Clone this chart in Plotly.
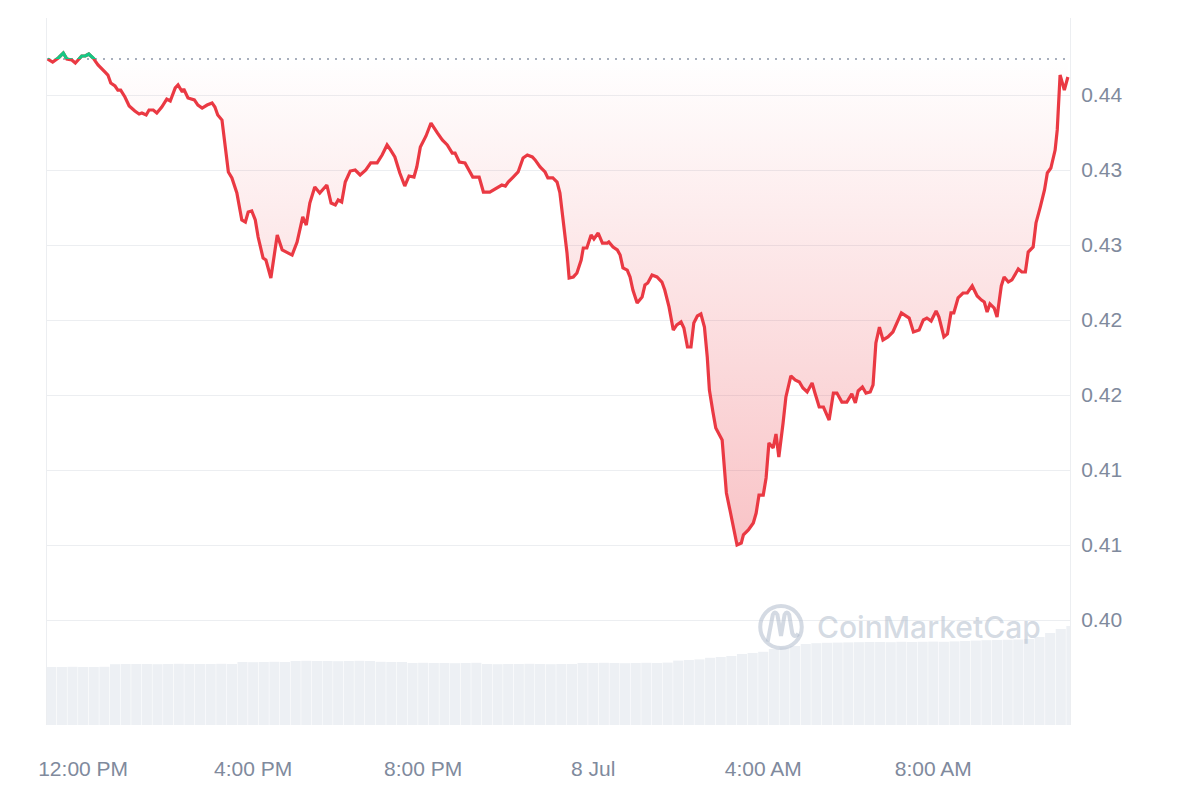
import pandas as pd
import plotly.graph_objects as go

# ---------------- data ----------------
start_time = "2024-07-07 11:09"
minutes_from_start = [
    1, 8, 16, 23, 28, 35, 40, 45, 49, 54, 59, 65, 72, 82, 86, 90, 96, 100, 104, 110,
    116, 124, 130, 134, 140, 144, 150, 155, 162, 169, 174, 181, 185, 191, 193, 199, 208, 213, 219, 226,
    233, 237, 241, 247, 251, 256, 261, 268, 275, 280, 284, 289, 294, 298, 305, 309, 316, 320, 325, 332,
    339, 346, 353, 361, 366, 371, 378, 385, 395, 401, 407, 411, 416, 421, 428, 435, 442, 450, 457, 466,
    473, 480, 484, 491, 498, 505, 511, 518, 522, 527, 535, 542, 551, 558, 565, 572, 576, 582, 590, 594,
    601, 610, 616, 625, 632, 642, 647, 651, 658, 665, 672, 678, 685, 689, 696, 703, 707, 714, 720, 724,
    728, 734, 737, 743, 748, 754, 757, 762, 768, 772, 778, 784, 791, 793, 799, 805, 809, 813, 819, 823,
    827, 833, 840, 844, 848, 854, 861, 868, 872, 878, 884, 889, 895, 899, 904, 909, 913, 918, 923, 928,
    932, 935, 940, 944, 953, 956, 959, 964, 970, 974, 980, 983, 990, 997, 1001, 1005, 1011, 1015, 1019, 1025,
    1029, 1033, 1039, 1043, 1050, 1056, 1062, 1067, 1073, 1080, 1084, 1090, 1096, 1104, 1110, 1115, 1122, 1129, 1136, 1141,
    1145, 1151, 1156, 1162, 1166, 1170, 1175, 1180, 1187, 1194, 1206, 1211, 1217, 1223, 1231, 1237, 1242, 1248, 1255, 1259,
    1266, 1271, 1276, 1280, 1286, 1293, 1299, 1306, 1313, 1319, 1323, 1327, 1331, 1337, 1341, 1347, 1351, 1357, 1362, 1371,
    1376, 1381, 1385, 1392, 1396, 1402, 1408, 1412, 1417, 1423, 1426, 1430, 1436, 1441,
]
prices = [
    0.44240, 0.44220, 0.44247, 0.44280, 0.44240, 0.44233, 0.44213, 0.44240, 0.44260, 0.44260,
    0.44273, 0.44247, 0.44200, 0.44153, 0.44133, 0.44080, 0.44060, 0.44033, 0.44033, 0.43987,
    0.43927, 0.43893, 0.43873, 0.43880, 0.43867, 0.43900, 0.43900, 0.43880, 0.43920, 0.43973,
    0.43960, 0.44047, 0.44067, 0.44020, 0.44040, 0.43980, 0.43967, 0.43933, 0.43913, 0.43933,
    0.43947, 0.43920, 0.43867, 0.43833, 0.43680, 0.43487, 0.43447, 0.43347, 0.43167, 0.43153,
    0.43220, 0.43227, 0.43167, 0.43053, 0.42913, 0.42900, 0.42780, 0.42920, 0.43067, 0.42967,
    0.42947, 0.42933, 0.43020, 0.43187, 0.43133, 0.43280, 0.43387, 0.43347, 0.43400, 0.43280,
    0.43267, 0.43300, 0.43287, 0.43420, 0.43493, 0.43500, 0.43467, 0.43500, 0.43547, 0.43547,
    0.43600, 0.43667, 0.43640, 0.43587, 0.43480, 0.43393, 0.43460, 0.43453, 0.43520, 0.43653,
    0.43727, 0.43813, 0.43747, 0.43700, 0.43667, 0.43613, 0.43613, 0.43553, 0.43547, 0.43513,
    0.43453, 0.43453, 0.43353, 0.43353, 0.43373, 0.43400, 0.43393, 0.43420, 0.43453, 0.43487,
    0.43580, 0.43600, 0.43587, 0.43567, 0.43520, 0.43487, 0.43447, 0.43447, 0.43420, 0.43347,
    0.43187, 0.42947, 0.42780, 0.42787, 0.42813, 0.42900, 0.42980, 0.42980, 0.43067, 0.43040,
    0.43080, 0.43013, 0.43013, 0.43020, 0.42987, 0.42967, 0.42933, 0.42847, 0.42833, 0.42787,
    0.42700, 0.42613, 0.42653, 0.42733, 0.42747, 0.42800, 0.42787, 0.42753, 0.42700, 0.42587,
    0.42433, 0.42467, 0.42487, 0.42447, 0.42320, 0.42320, 0.42480, 0.42527, 0.42540, 0.42453,
    0.42253, 0.42033, 0.41887, 0.41780, 0.41700, 0.41500, 0.41347, 0.41233, 0.41100, 0.41000,
    0.41013, 0.41067, 0.41100, 0.41147, 0.41213, 0.41333, 0.41333, 0.41447, 0.41680, 0.41647,
    0.41740, 0.41587, 0.41813, 0.41987, 0.42127, 0.42100, 0.42087, 0.42047, 0.42020, 0.42080,
    0.42013, 0.41920, 0.41920, 0.41833, 0.42013, 0.42013, 0.41953, 0.41953, 0.42007, 0.41947,
    0.42027, 0.42053, 0.42013, 0.42020, 0.42067, 0.42347, 0.42453, 0.42367, 0.42387, 0.42420,
    0.42547, 0.42533, 0.42513, 0.42420, 0.42433, 0.42500, 0.42513, 0.42493, 0.42560, 0.42520,
    0.42387, 0.42407, 0.42547, 0.42547, 0.42647, 0.42680, 0.42680, 0.42727, 0.42660, 0.42633,
    0.42620, 0.42553, 0.42607, 0.42580, 0.42520, 0.42727, 0.42787, 0.42753, 0.42767, 0.42840,
    0.42820, 0.42820, 0.42953, 0.42987, 0.43147, 0.43253, 0.43367, 0.43480, 0.43513, 0.43633,
    0.43767, 0.44133, 0.44033, 0.44120,
]

# 24h volume bars (USD millions), one every 15 minutes
volume_first_offset_min = 6
volume_step_min = 15
volumes = [
    290, 290, 291, 290, 290, 291,
    304, 305, 305, 305, 304, 305, 306, 305, 305, 305, 306, 305,
    315, 314, 315, 316, 315,
    320, 321, 320, 320, 319, 320, 321, 320,
    316, 315, 315,
    310, 311, 310, 310, 309, 310, 311,
    305, 304, 305, 305, 306, 305, 304, 305, 305,
    310, 310, 311, 310, 309, 310, 311, 310, 312,
    322, 325, 328,
    336, 340, 345,
    355, 360, 366,
    380, 388, 395,
    405, 409, 411, 412,
    413, 414, 415, 415, 414, 416, 415, 416, 417, 416, 418, 420,
    422, 424, 425, 426, 427, 430,
    440, 460, 480, 495,
]

y_tick_vals = [0.405, 0.41, 0.415, 0.42, 0.425, 0.43, 0.435, 0.44]
y_tick_text = ["0.40", "0.41", "0.41", "0.42", "0.42", "0.43", "0.43", "0.44"]
x_tick_vals = ["2024-07-07 12:00", "2024-07-07 16:00", "2024-07-07 20:00",
               "2024-07-08 00:00", "2024-07-08 04:00", "2024-07-08 08:00"]
x_tick_text = ["12:00 PM", "4:00 PM", "8:00 PM", "8 Jul", "4:00 AM", "8:00 AM"]
x_range = ["2024-07-07 11:09", "2024-07-08 11:13"]
y_range = [0.398, 0.445133]
volume_range = [0, 3535]

# ---------------- build ----------------
t0 = pd.Timestamp(start_time)
times = [t0 + pd.Timedelta(minutes=m) for m in minutes_from_start]
vol_times = [t0 + pd.Timedelta(minutes=volume_first_offset_min + volume_step_min * i)
             for i in range(len(volumes))]
baseline = prices[0]

RED = "#ea3943"
GREEN = "#16c784"
AXIS_TXT = "#808a9d"
FONT = "Liberation Sans, Arial, sans-serif"

fig = go.Figure()

# baseline path (for fill)
fig.add_trace(go.Scatter(x=times, y=[baseline] * len(times), mode="lines",
                         line=dict(width=0, color="rgba(0,0,0,0)"),
                         hoverinfo="skip", showlegend=False))
# price line with gradient fill
fig.add_trace(go.Scatter(
    x=times, y=prices, mode="lines",
    line=dict(color=RED, width=3.2),
    fill="tonexty",
    fillgradient=dict(type="vertical",
                      colorscale=[[0, "rgba(234,57,67,0.30)"], [1, "rgba(234,57,67,0.0)"]],
                      start=min(prices), stop=baseline),
    showlegend=False))

# volume bars
fig.add_trace(go.Bar(x=vol_times, y=volumes, yaxis="y2",
                     marker=dict(color="#edf0f4", line=dict(width=0)),
                     width=volume_step_min * 60 * 1000 * 0.95,
                     hoverinfo="skip", showlegend=False))

# green part above the opening price (clipped by its own axis domain)
fig.add_trace(go.Scatter(x=times, y=prices, mode="lines", yaxis="y3",
                         line=dict(color=GREEN, width=3.2),
                         hoverinfo="skip", showlegend=False))

green_domain_start = (baseline - y_range[0]) / (y_range[1] - y_range[0])

# dotted opening-price line
fig.add_shape(type="line", xref="paper", x0=0, x1=1, yref="y", y0=baseline, y1=baseline,
              line=dict(color="rgba(128,138,157,0.9)", width=1.5, dash="2px,6px"), layer="below")

# CoinMarketCap watermark
WM = "rgba(176,188,204,0.55)"
fig.add_shape(type="circle", xref="paper", yref="paper",
              x0=0.6972, x1=0.7378, y0=0.1090, y1=0.1682,
              line=dict(color=WM, width=4))
fig.add_shape(type="path", xref="paper", yref="paper",
              path="M 0.7045 0.1180 L 0.7095 0.1560 Q 0.7115 0.1620 0.7140 0.1560 L 0.7175 0.1260 "
                   "L 0.7210 0.1560 Q 0.7232 0.1620 0.7255 0.1560 L 0.7285 0.1300 Q 0.7310 0.1220 0.7345 0.1290",
              line=dict(color=WM, width=4))
fig.add_annotation(text="CoinMarketCap", xref="paper", yref="paper",
                   x=0.8617, y=0.1386, xanchor="center", yanchor="middle", showarrow=False,
                   font=dict(family="Inter, Noto Sans, sans-serif", size=30, color=WM, weight=500))

# page body has an 8px margin: size the figure so the plot area lands where the reference has it
fig.update_layout(
    width=1192, height=792,
    margin=dict(l=39, r=130, t=10, b=75),
    paper_bgcolor="white", plot_bgcolor="rgba(0,0,0,0)",
    font=dict(family=FONT, color=AXIS_TXT, size=21),
    bargap=0.05,
    xaxis=dict(type="date", range=x_range, tickmode="array",
               tickvals=x_tick_vals, ticktext=x_tick_text,
               showgrid=False, zeroline=False, showline=False, ticks="",
               ticklabelstandoff=29,
               tickfont=dict(size=21, color=AXIS_TXT, family=FONT)),
    yaxis=dict(range=y_range, side="right", tickmode="array",
               tickvals=y_tick_vals, ticktext=y_tick_text,
               showgrid=True, gridcolor="#eceef1", gridwidth=1,
               zeroline=False, showline=True, mirror=True, linecolor="#eceef1", linewidth=1,
               ticks="", ticklabelstandoff=6,
               tickfont=dict(size=21, color=AXIS_TXT, family=FONT)),
    yaxis2=dict(range=volume_range, overlaying="y", visible=False),
    yaxis3=dict(range=[baseline, y_range[1]], domain=[green_domain_start, 1],
                anchor="x", visible=False),
    showlegend=False,
)

fig.write_html("out.html")
